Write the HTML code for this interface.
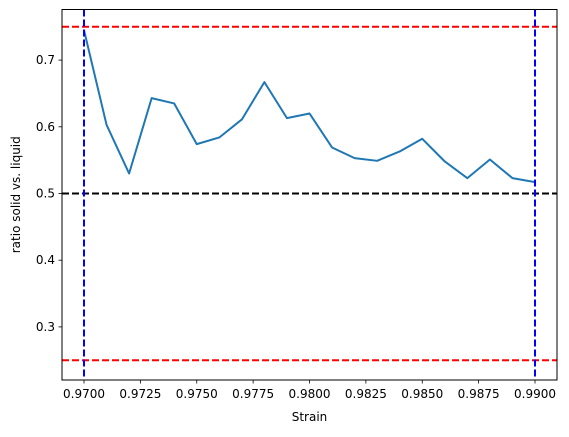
<!DOCTYPE html>
<html><head><meta charset="utf-8"><style>
body{margin:0;background:#fff;}
svg text{font-family:"DejaVu Sans","Liberation Sans",sans-serif;font-size:12px;fill:#000;}
</style></head><body>
<svg id="chart" width="569" height="432">
<g id="plot"></g>
</svg>
<script>
const strains=[0.970,0.971,0.972,0.973,0.974,0.975,0.976,0.977,0.978,0.979,0.980,0.981,0.982,0.983,0.984,0.985,0.986,0.987,0.988,0.989,0.990];
const ratios=[0.745,0.603,0.530,0.643,0.635,0.574,0.584,0.611,0.667,0.613,0.620,0.569,0.553,0.549,0.563,0.582,0.548,0.523,0.551,0.523,0.517];
const xTicks=[0.970,0.9725,0.975,0.9775,0.980,0.9825,0.985,0.9875,0.990];
const yTicks=[0.3,0.4,0.5,0.6,0.7];
const hLines=[0.75,0.5,0.25];
const hColors=['red','black','red'];
const vLines=[0.970,0.990];

const L=62,R=557,T=9.5,B=380;
const xs=v=>84+(v-0.97)/0.02*451;
const ys=v=>193.5-(v-0.5)*667;
const NS='http://www.w3.org/2000/svg';
const g=document.getElementById('plot');
function mk(tag,attrs){const e=document.createElementNS(NS,tag);for(const k in attrs)e.setAttribute(k,attrs[k]);g.appendChild(e);return e;}

xTicks.forEach(v=>{
 const x=xs(v);
 const t=mk('line',{x1:x,x2:x,y1:B,y2:B+3.5,stroke:'#000','stroke-width':0.8});
 
 
 const l=mk('text',{x:x,y:B+18,'text-anchor':'middle'});l.textContent=v.toFixed(4);
 
 
});
yTicks.forEach(v=>{
 const y=ys(v);
 const t=mk('line',{x1:L-3.5,x2:L,y1:y,y2:y,stroke:'#000','stroke-width':0.8});
 
 
 const l=mk('text',{x:L-7,y:y+4,'text-anchor':'end'});l.textContent=v.toFixed(1);
 
 
});
const path=strains.map((s,i)=>(i?'L':'M')+xs(s)+','+ys(ratios[i])).join(' ');
const ln=mk('path',{d:path,fill:'none',stroke:'#1f77b4','stroke-width':2,'stroke-linejoin':'round'});


hLines.forEach((v,i)=>{
 const h=mk('line',{x1:L,x2:R,y1:ys(v),y2:ys(v),stroke:hColors[i],'stroke-width':2,'stroke-dasharray':'7,3'});
 
 
});
vLines.forEach(v=>{
 const h=mk('line',{x1:xs(v),x2:xs(v),y1:T,y2:B,stroke:'blue','stroke-width':2,'stroke-dasharray':'7,3'});
 
 
});
const fr=mk('rect',{x:L,y:T,width:R-L,height:B-T,fill:'none',stroke:'#000','stroke-width':1});


const xl=mk('text',{x:(L+R)/2,y:421,'text-anchor':'middle'});xl.textContent='Strain';


const yl=mk('text',{x:0,y:0,'text-anchor':'middle',transform:'translate(20,'+((T+B)/2)+') rotate(-90)'});yl.textContent='ratio solid vs. liquid';


</script>
</body></html>
